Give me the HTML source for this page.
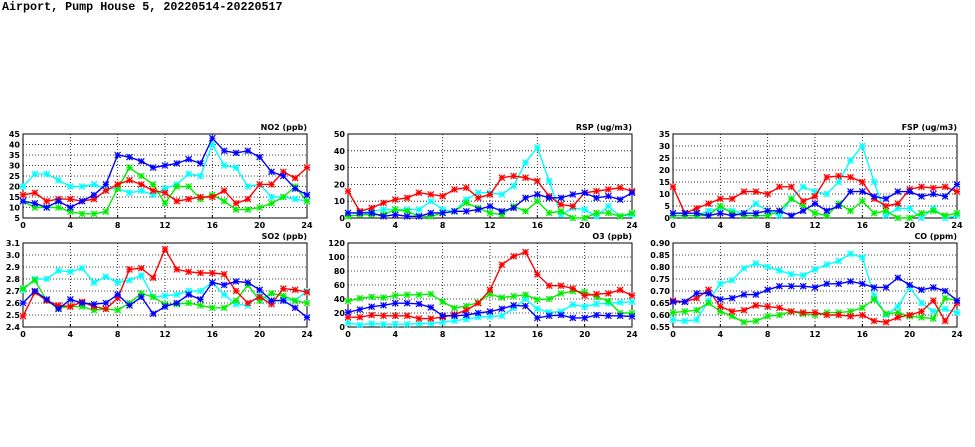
<!DOCTYPE html>
<html><head><meta charset="utf-8">
<style>
body{margin:0;background:#fff;width:975px;height:447px;overflow:hidden;font-family:"Liberation Sans",sans-serif}
#title{position:absolute;left:2px;top:0px;font:bold 11.7px "Liberation Mono",monospace;color:#000}
svg{position:absolute;left:0;top:0}
text{font-family:"DejaVu Sans","Liberation Sans",sans-serif;font-weight:bold;font-size:8px;fill:#000}
</style></head>
<body>
<div id="title">Airport, Pump House 5, 20220514-20220517</div>
<svg id="svg" width="975" height="447"></svg>
<script>
const hours=[0,1,2,3,4,5,6,7,8,9,10,11,12,13,14,15,16,17,18,19,20,21,22,23,24];
const xTicks=[0,4,8,12,16,20,24];
const seriesColors=["#00ffff","#00ee00","#ff0000","#0000ff"];
const no2Cyan=[20,26,26,23,20,20,21,19,19,17,18,16,19,21,26,25,40,30,29,20,21,15,15,14,13];
const no2Green=[13,10,10,10,8,7,7,8,19,29,25,21,12,20,20,14,16,13,9,9,10,12,15,20,13];
const no2Red=[16,17,13,14,14,13,14,18,21,23,21,18,17,13,14,15,15,18,12,14,21,21,27,24,29];
const no2Blue=[13,12,10,13,10,13,16,21,35,34,32,29,30,31,33,31,43,37,36,37,34,27,25,19,16];
const rspCyan=[3,3,4,5,5,5,5,10,5,4,11,15,15,14,19,33,42,22,2,6,5,1,7,1,2];
const rspGreen=[1,2,2,2,5,4,1,1,3,4,9,6,3,2,7,4,10,3,4,0,0,3,3,1,3];
const rspRed=[16,4,6,9,11,12,15,14,13,17,18,12,14,24,25,24,22,13,8,7,15,16,17,18,16];
const rspBlue=[3,3,3,1,2,1,1,3,3,4,4,5,7,4,6,12,14,12,12,14,15,12,13,11,15];
const fspCyan=[1,1,1,3,4,3,2,6,3,1,8,13,11,10,15,24,30,15,1,4,4,0,4,0,1];
const fspGreen=[1,1,1,1,5,2,1,1,1,3,8,5,2,1,6,3,7,2,3,0,0,2,3,1,2];
const fspRed=[13,2,4,6,8,8,11,11,10,13,13,7,9,17,17.5,17,15,8,5,6,12,13,12.5,13,11];
const fspBlue=[2,2,2,1,2,1,2,2,3,3,1,3,6,3,5,11,11,9,8,11,11,9,10,9,14];
const so2Cyan=[2.71,2.80,2.80,2.87,2.86,2.89,2.77,2.82,2.77,2.79,2.83,2.65,2.66,2.67,2.70,2.70,2.77,2.67,2.59,2.58,2.67,2.61,2.63,2.62,2.70];
const so2Green=[2.72,2.79,2.62,2.56,2.57,2.57,2.54,2.55,2.54,2.60,2.68,2.65,2.59,2.59,2.60,2.58,2.56,2.56,2.62,2.75,2.62,2.68,2.66,2.62,2.60];
const so2Red=[2.49,2.69,2.62,2.58,2.57,2.61,2.57,2.55,2.64,2.88,2.89,2.81,3.05,2.88,2.86,2.85,2.85,2.84,2.70,2.60,2.65,2.59,2.72,2.71,2.69];
const so2Blue=[2.60,2.70,2.63,2.55,2.63,2.60,2.59,2.60,2.67,2.58,2.65,2.51,2.57,2.60,2.67,2.63,2.77,2.75,2.78,2.77,2.71,2.62,2.62,2.56,2.48];
const o3Cyan=[6,3,5,4,4,4,5,5,7,9,11,14,15,16,27,40,26,21,22,32,29,33,34,35,36];
const o3Green=[37,41,43,42,45,46,46,47,36,27,30,35,47,42,44,46,39,40,48,51,50,43,37,20,20];
const o3Red=[14,14,17,16,16,16,12,12,14,18,24,34,53,89,101,107,75,59,59,55,45,47,48,53,45];
const o3Blue=[21,25,29,31,34,34,33,28,16,16,17,20,22,26,31,30,13,16,17,13,13,17,16,16,15];
const coCyan=[0.58,0.575,0.58,0.66,0.73,0.745,0.795,0.815,0.80,0.785,0.77,0.765,0.79,0.81,0.825,0.855,0.84,0.68,0.60,0.635,0.715,0.65,0.615,0.625,0.61];
const coGreen=[0.61,0.615,0.62,0.65,0.615,0.595,0.57,0.575,0.595,0.60,0.615,0.605,0.60,0.61,0.61,0.615,0.63,0.665,0.605,0.61,0.595,0.59,0.585,0.67,0.66];
const coRed=[0.66,0.655,0.67,0.705,0.635,0.615,0.62,0.64,0.635,0.63,0.615,0.61,0.61,0.60,0.60,0.595,0.60,0.575,0.57,0.59,0.60,0.615,0.66,0.575,0.65];
const coBlue=[0.655,0.655,0.69,0.69,0.665,0.67,0.685,0.685,0.705,0.72,0.72,0.72,0.715,0.73,0.73,0.74,0.73,0.715,0.715,0.755,0.725,0.705,0.715,0.70,0.66];
const no2Ticks=[5,10,15,20,25,30,35,40,45];
const rspTicks=[0,10,20,30,40,50];
const fspTicks=[0,5,10,15,20,25,30,35];
const so2Ticks=[2.4,2.5,2.6,2.7,2.8,2.9,3.0,3.1];
const o3Ticks=[0,20,40,60,80,100,120];
const coTicks=[0.55,0.60,0.65,0.70,0.75,0.80,0.85,0.90];

const NS="http://www.w3.org/2000/svg";
const svg=document.getElementById('svg');
function mk(tag,attrs,parent){const e=document.createElementNS(NS,tag);for(const k in attrs)e.setAttribute(k,attrs[k]);(parent||svg).appendChild(e);return e;}

const panels=[
 {name:'no2',label:'NO2 (ppb)',x0:23,y0:134,ticks:no2Ticks,dec:0,series:[no2Cyan,no2Green,no2Red,no2Blue]},
 {name:'rsp',label:'RSP (ug/m3)',x0:348,y0:134,ticks:rspTicks,dec:0,series:[rspCyan,rspGreen,rspRed,rspBlue]},
 {name:'fsp',label:'FSP (ug/m3)',x0:673,y0:134,ticks:fspTicks,dec:0,series:[fspCyan,fspGreen,fspRed,fspBlue]},
 {name:'so2',label:'SO2 (ppb)',x0:23,y0:243,ticks:so2Ticks,dec:1,series:[so2Cyan,so2Green,so2Red,so2Blue]},
 {name:'o3',label:'O3 (ppb)',x0:348,y0:243,ticks:o3Ticks,dec:0,series:[o3Cyan,o3Green,o3Red,o3Blue]},
 {name:'co',label:'CO (ppm)',x0:673,y0:243,ticks:coTicks,dec:2,series:[coCyan,coGreen,coRed,coBlue]}
];
const W=284,H=84;
panels.forEach(p=>{
  const g=mk('g',{});
  
  
  const lo=p.ticks[0],hi=p.ticks[p.ticks.length-1];
  const xs=h=>p.x0+h/24*W;
  const ys=v=>p.y0+H-(v-lo)/(hi-lo)*H;
  xTicks.forEach(t=>{
    if(t>0&&t<24){const l=mk('line',{x1:xs(t),x2:xs(t),y1:p.y0,y2:p.y0+H,stroke:'#000','stroke-width':0.8,'stroke-dasharray':'1,2'},g);
      }
    const tx=mk('text',{x:xs(t),y:p.y0+H+10,'text-anchor':'middle'},g);tx.textContent=t;
    
    mk('line',{x1:xs(t),x2:xs(t),y1:p.y0+H,y2:p.y0+H-3,stroke:'#000'},g);
  });
  p.ticks.forEach(t=>{
    const y=ys(t);
    if(t>lo&&t<hi){const l=mk('line',{x1:p.x0,x2:p.x0+W,y1:y,y2:y,stroke:'#000','stroke-width':0.8,'stroke-dasharray':'1,2'},g);
      }
    const tx=mk('text',{x:p.x0-3,y:y+3,'text-anchor':'end'},g);tx.textContent=t.toFixed(p.dec);
    
  });
  const fr=mk('rect',{x:p.x0,y:p.y0,width:W,height:H,fill:'none',stroke:'#000','stroke-width':1},g);
  
  const lb=mk('text',{x:p.x0+W,y:p.y0-4,'text-anchor':'end'},g);lb.textContent=p.label;
  
  p.series.forEach((vals,si)=>{
    const c=seriesColors[si];
    const pl=mk('polyline',{points:vals.map((v,i)=>xs(hours[i])+','+ys(v)).join(' '),fill:'none',stroke:c,'stroke-width':1.4},g);
    
    vals.forEach((v,i)=>{
      const x=xs(hours[i]),y=ys(v),s=3;
      const m=mk('path',{d:`M${x-s},${y-s}L${x+s},${y+s}M${x-s},${y+s}L${x+s},${y-s}M${x-s},${y}L${x+s},${y}M${x},${y-s}L${x},${y+s}`,stroke:c,'stroke-width':1.2},g);
      
    });
  });
});
</script>
</body></html>
